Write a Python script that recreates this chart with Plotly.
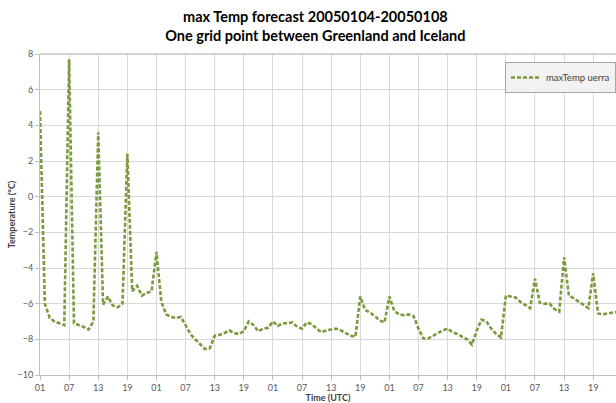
import plotly.graph_objects as go

# hourly max temperature, starting 01 UTC 2005-01-04
temps = [
    4.8, -6.0, -6.8, -7.0, -7.1, -7.2, 7.7, -7.1, -7.2, -7.3, -7.45, -7.0,
    3.6, -6.05, -5.6, -6.1, -6.2, -6.0, 2.4, -5.3, -5.0, -5.55, -5.4, -5.3,
    -3.1, -5.9, -6.6, -6.75, -6.8, -6.75, -7.2, -7.7, -8.0, -8.3, -8.55, -8.5,
    -7.8, -7.75, -7.65, -7.5, -7.65, -7.7, -7.55, -7.0, -7.2, -7.55, -7.4, -7.35,
    -7.0, -7.25, -7.1, -7.1, -7.05, -7.3, -7.4, -7.05, -7.15, -7.4, -7.6, -7.5,
    -7.45, -7.4, -7.5, -7.65, -7.8, -7.85, -5.6, -6.35, -6.5, -6.7, -6.95, -7.05,
    -5.6, -6.4, -6.6, -6.65, -6.6, -6.7, -7.4, -7.95, -7.95, -7.8, -7.65, -7.5,
    -7.4, -7.6, -7.7, -7.85, -8.0, -8.3, -7.5, -6.9, -7.0, -7.4, -7.7, -7.9,
    -5.55, -5.6, -5.65, -5.9, -6.1, -6.25, -4.6, -5.95, -6.0, -6.0, -6.3, -6.45,
    -3.4, -5.55, -5.7, -5.9, -6.1, -6.25, -4.3, -6.55, -6.6, -6.55, -6.5, -6.45,
]
hours = list(range(len(temps)))
tick_hours = list(range(0, 120, 6))
tick_text = ["01", "07", "13", "19"] * 5
y_ticks = list(range(-10, 9, 2))

title_lines = ["max Temp forecast 20050104-20050108", "One grid point between Greenland and Iceland"]
series_name = "maxTemp uerra"

fig = go.Figure()
fig.add_trace(go.Scatter(
    x=hours, y=temps, mode="lines", name=series_name,
    line=dict(color="#7b9a3d", width=2.6, dash="4px,2px"),
    showlegend=True,
))

font_family = "Lato, 'Open Sans', sans-serif"
fig.update_layout(
    width=616, height=403,
    margin=dict(l=40, r=0, t=54, b=26),
    paper_bgcolor="white", plot_bgcolor="white",
    font=dict(family=font_family, color="#595959", size=9),
    title=dict(text="<br>".join("<b>" + s + "</b>" for s in title_lines),
               x=0.512, xanchor="center", yref="container", y=0.945, yanchor="top",
               font=dict(size=14.5, color="#000000", family=font_family)),
    showlegend=True,
    legend=dict(x=1.0, xanchor="right", y=0.975, yanchor="top",
                bgcolor="#f2f2f2", bordercolor="#a6a6a6", borderwidth=1,
                font=dict(size=9.5, color="#404040"), itemwidth=30),
    xaxis=dict(range=[0, 118.7], tickmode="array", tickvals=tick_hours, ticktext=tick_text,
               showgrid=True, gridcolor="#d9d9d9", gridwidth=1,
               showline=True, linecolor="#bfbfbf", linewidth=1,
               ticks="outside", ticklen=4, tickcolor="#bfbfbf",
               zeroline=False,
               title=dict(text="<b>Time (UTC)</b>", font=dict(size=9, color="#404040"), standoff=4)),
    yaxis=dict(range=[-10, 8], tickmode="array", tickvals=y_ticks,
               showgrid=True, gridcolor="#d9d9d9", gridwidth=1,
               showline=True, linecolor="#bfbfbf", linewidth=1,
               ticks="outside", ticklen=4, tickcolor="#bfbfbf",
               zeroline=False, mirror=False,
               title=dict(text="<b>Temperature (°C)</b>", font=dict(size=9, color="#404040"), standoff=0)),
)
# top border line
fig.add_shape(type="line", xref="paper", yref="paper", x0=0, x1=1, y0=1, y1=1,
              line=dict(color="#a6a6a6", width=1))

fig.write_html("out.html")
